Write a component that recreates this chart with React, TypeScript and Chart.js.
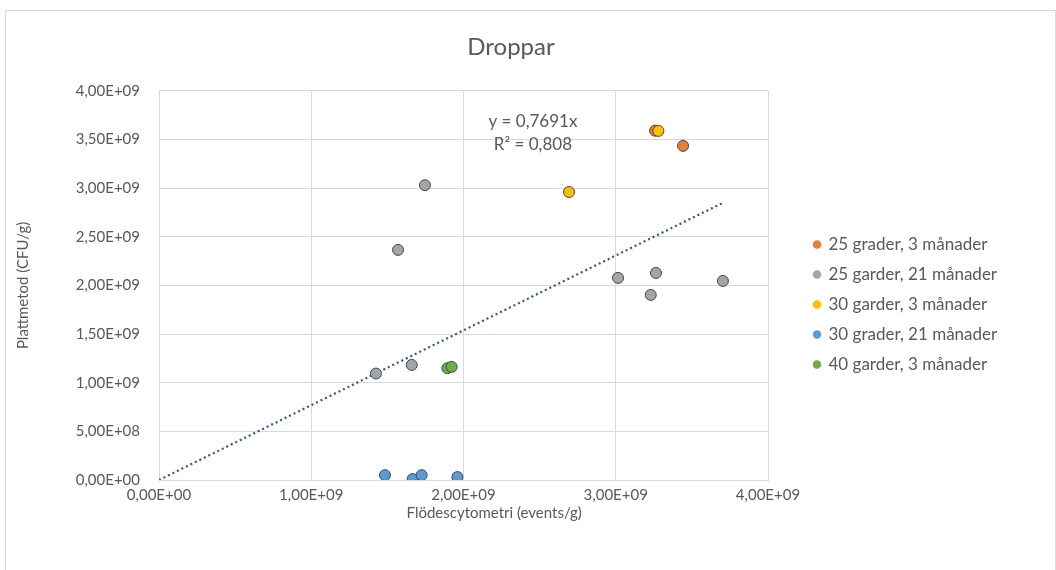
import React, { useEffect, useRef } from "react";
import { Chart, registerables } from "chart.js";

Chart.register(...registerables);

// ---- Data ----
const SERIES_NAMES = [
  "25 grader, 3 månader",
  "25 garder, 21 månader",
  "30 garder, 3 månader",
  "30 grader, 21 månader",
  "40 garder, 3 månader",
];
const SERIES_COLORS = ["#ED7D31", "#A5A5A5", "#FFC000", "#5B9BD5", "#70AD47"];

const S1_X = [3.258e9, 3.442e9];
const S1_Y = [3.59e9, 3.434e9];

const S2_X = [1.747e9, 1.57e9, 1.425e9, 1.66e9, 3.015e9, 3.264e9, 3.23e9, 3.704e9];
const S2_Y = [3.03e9, 2.365e9, 1.094e9, 1.183e9, 2.077e9, 2.128e9, 1.902e9, 2.046e9];

const S3_X = [3.28e9, 2.693e9];
const S3_Y = [3.588e9, 2.96e9];

const S4_X = [1.484e9, 1.666e9, 1.725e9, 1.96e9];
const S4_Y = [0.05e9, 0.01e9, 0.05e9, 0.03e9];

const S5_X = [1.894e9, 1.922e9];
const S5_Y = [1.149e9, 1.163e9];

const TREND_SLOPE = 0.7691;
const TREND_X = [0, 3.7e9];
const TREND_LABELS = ["y = 0,7691x", "R² = 0,808"];
const TREND_LABEL_X = 2.456e9;
const TREND_LABEL_Y = [3.68e9, 3.445e9];

const X_MIN = 0, X_MAX = 4e9, X_STEP = 1e9;
const Y_MIN = 0, Y_MAX = 4e9, Y_STEP = 5e8;

const TITLE = "Droppar";
const X_TITLE = "Flödescytometri (events/g)";
const Y_TITLE = "Plattmetod (CFU/g)";

// ---- Styling / layout ----
const FONT = "Lato, 'Open Sans', sans-serif";
const TEXT = "#595959";
const GRID = "#d9d9d9";
const W = 1056, H = 570;
const PLOT_LEFT = 159, PLOT_RIGHT = 768;
const PAD_RIGHT = 34;
const SPACER = 33;
const LEGEND_PAD = 13;
const LEGEND_FONT_SIZE = 17;
const LEGEND_BOX = 6;
const LEGEND_W = W - PAD_RIGHT - PLOT_RIGHT - SPACER;
const X_TITLE_SHIFT = 30;

function sci(v: number): string {
  if (v === 0) return "0,00E+00";
  const e = Math.floor(Math.log10(Math.abs(v)) + 1e-9);
  const m = v / Math.pow(10, e);
  return (
    m.toFixed(2).replace(".", ",") +
    "E" + (e >= 0 ? "+" : "-") +
    String(Math.abs(e)).padStart(2, "0")
  );
}

function pts(xs: number[], ys: number[]) {
  return xs.map((x, i) => ({ x, y: ys[i] }));
}

const trendLabelPlugin = {
  id: "trendLabel",
  afterDatasetsDraw(chart: any) {
    const { ctx, scales } = chart;
    ctx.save();
    ctx.font = `17px ${FONT}`;
    ctx.fillStyle = TEXT;
    ctx.textAlign = "center";
    ctx.textBaseline = "middle";
    TREND_LABELS.forEach((t, i) => {
      ctx.fillText(
        t,
        scales.x.getPixelForValue(TREND_LABEL_X),
        scales.y.getPixelForValue(TREND_LABEL_Y[i])
      );
    });
    ctx.restore();
  },
};

const legendWidthPlugin = {
  id: "legendWidth",
  beforeUpdate(chart: any) {
    const lg = chart.legend;
    if (lg && !lg.__patched) {
      const orig = lg.fit;
      lg.fit = function () {
        orig.call(this);
        this.width = LEGEND_W;
      };
      lg.__patched = true;
    }
  },
};

export default function App() {
  const ref = useRef<HTMLCanvasElement | null>(null);

  useEffect(() => {
    const canvas = ref.current;
    if (!canvas) return;

    // shift x-axis title to the right with leading non-breaking spaces
    const mctx = document.createElement("canvas").getContext("2d")!;
    mctx.font = `15px ${FONT}`;
    const nb = mctx.measureText("\u00A0\u00A0\u00A0\u00A0\u00A0\u00A0\u00A0\u00A0\u00A0\u00A0").width / 10 || 4;
    const nCount = Math.max(0, Math.round((2 * X_TITLE_SHIFT) / nb));
    const xTitleText = "\u00A0".repeat(nCount) + X_TITLE;

    const scatterSets = [
      [S1_X, S1_Y],
      [S2_X, S2_Y],
      [S3_X, S3_Y],
      [S4_X, S4_Y],
      [S5_X, S5_Y],
    ].map(([xs, ys], i) => ({
      type: "scatter" as const,
      label: SERIES_NAMES[i],
      data: pts(xs, ys),
      backgroundColor: SERIES_COLORS[i],
      borderColor: "#3d4a5e",
      borderWidth: 1,
      pointRadius: 5.5,
      pointHoverRadius: 5.5,
      order: 10 - i,
    }));

    const trendSet = {
      type: "line" as const,
      label: "trend",
      data: TREND_X.map((x) => ({ x, y: TREND_SLOPE * x })),
      borderColor: "#2f5597",
      borderWidth: 2.2,
      borderDash: [2, 3],
      pointRadius: 0,
      fill: false,
      order: 20,
    };

    const chart = new Chart(canvas, {
      type: "scatter",
      data: { datasets: [...scatterSets, trendSet] as any },
      plugins: [trendLabelPlugin, legendWidthPlugin],
      options: {
        responsive: false,
        animation: false,
        devicePixelRatio: 1,
        layout: { padding: { top: 0, left: 0, right: PAD_RIGHT, bottom: 30 } },
        plugins: {
          tooltip: { enabled: false },
          title: {
            display: true,
            text: TITLE,
            color: TEXT,
            font: { family: FONT, size: 24, weight: "normal" },
            padding: { top: 33, bottom: 29 },
          },
          legend: {
            position: "right",
            align: "center",
            title: {
              display: true,
              text: " ",
              font: { size: 10 },
              padding: { top: 57, bottom: 0 },
            },
            labels: {
              usePointStyle: true,
              pointStyle: "circle",
              boxWidth: LEGEND_BOX,
              boxHeight: LEGEND_BOX,
              padding: LEGEND_PAD,
              color: TEXT,
              font: { family: FONT, size: LEGEND_FONT_SIZE },
              filter: (item: any) => item.datasetIndex < SERIES_NAMES.length,
              sort: (a: any, b: any) => a.datasetIndex - b.datasetIndex,
              generateLabels: (c: any) => {
                const items = Chart.defaults.plugins.legend.labels.generateLabels(c);
                return items.map((it: any) => ({
                  ...it,
                  fillStyle: SERIES_COLORS[it.datasetIndex] || it.fillStyle,
                  strokeStyle: SERIES_COLORS[it.datasetIndex] || it.strokeStyle,
                  lineWidth: 0,
                  lineDash: [],
                }));
              },
            },
          },
        },
        scales: {
          x: {
            type: "linear",
            min: X_MIN,
            max: X_MAX,
            ticks: {
              stepSize: X_STEP,
              callback: (v: any) => sci(Number(v)),
              color: TEXT,
              font: { family: FONT, size: 15 },
              padding: 6,
              maxRotation: 0,
            },
            grid: { color: GRID, drawTicks: false },
            border: { color: GRID },
            title: {
              display: true,
              text: xTitleText,
              color: TEXT,
              font: { family: FONT, size: 15 },
              padding: { top: 0, bottom: 18 },
            },
            afterFit: (s: any) => {
              s.height = 60;
            },
          },
          y: {
            type: "linear",
            min: Y_MIN,
            max: Y_MAX,
            ticks: {
              stepSize: Y_STEP,
              callback: (v: any) => sci(Number(v)),
              color: TEXT,
              font: { family: FONT, size: 15 },
              padding: 19,
            },
            grid: { color: GRID, drawTicks: false },
            border: { color: GRID },
            title: {
              display: true,
              text: Y_TITLE,
              color: TEXT,
              font: { family: FONT, size: 15 },
              padding: { top: 14, bottom: 0 },
            },
            afterFit: (s: any) => {
              s.width = PLOT_LEFT;
            },
          },
          spacer: {
            type: "linear",
            position: "right",
            display: true,
            grid: { display: false, drawTicks: false },
            ticks: { display: false },
            border: { display: false },
            afterFit: (s: any) => {
              s.width = SPACER;
            },
          },
        },
      } as any,
    });

    return () => chart.destroy();
  }, []);

  return (
    <div
      style={{
        position: "fixed",
        left: 0,
        top: 0,
        width: W,
        height: H,
        overflow: "hidden",
        background: "#ffffff",
      }}
    >
      <div
        style={{
          position: "absolute",
          left: 5,
          top: 10,
          width: 1049,
          height: 600,
          border: "1px solid #d9d9d9",
        }}
      />
      <canvas
        ref={ref}
        width={W}
        height={H}
        style={{ position: "absolute", left: 0, top: 0, width: W, height: H }}
      />
    </div>
  );
}
